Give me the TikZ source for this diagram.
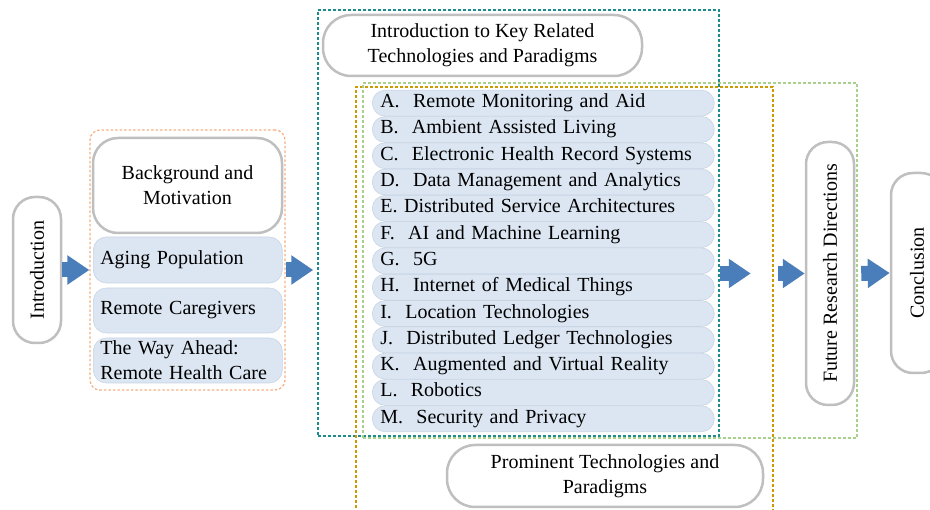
\documentclass[tikz,border=0pt]{standalone}
\usepackage{fontspec}
\setmainfont{Liberation Serif}
\usetikzlibrary{arrows.meta}

\definecolor{rowblue}{RGB}{220,230,242}
\definecolor{rowedge}{RGB}{200,212,228}
\definecolor{boxgray}{RGB}{191,191,191}
\definecolor{flowblue}{RGB}{74,126,187}
\definecolor{dashorange}{RGB}{244,177,131}
\definecolor{dashteal}{RGB}{30,140,140}
\definecolor{dashgold}{RGB}{204,153,0}
\definecolor{dashgreen}{RGB}{169,209,142}

\begin{document}
\begin{tikzpicture}[x=1pt,y=-1pt,
  txt/.style={font=\fontsize{20}{25}\selectfont},
  title/.style={txt, draw=boxgray, line width=2.5pt, fill=white, rounded corners=22pt, align=center, inner sep=0pt},
  topic/.style={txt, draw=rowedge, line width=0.6pt, fill=rowblue, rounded corners=13pt, align=left, inner ysep=0pt, text height=14pt, text depth=5pt, anchor=west},
  group/.style={draw=#1, line width=1.5pt, dash pattern=on 3pt off 2pt, inner sep=0pt},
  flow/.style={draw=flowblue, line width=15pt, -{Triangle[length=22pt,width=28pt]}}
]
\useasboundingbox (0,0) rectangle (930,510);
\clip (0,0) rectangle (930,510);

% dashed groups
\node[group=dashorange, line width=1.3pt, dash pattern=on 2.5pt off 2pt, rounded corners=10pt, minimum width=195pt, minimum height=260pt] (bgfit) at (187.5,260) {};
\node[group=dashteal, minimum width=401pt, minimum height=426pt] (teal) at (518.5,223) {};
\node[group=dashgold, minimum width=417pt, minimum height=443pt] (gold) at (564.5,308.5) {};
\node[group=dashgreen, minimum width=494pt, minimum height=355pt] (green) at (610,260.5) {};

% section boxes
\node[title, minimum width=48pt, minimum height=146pt] (intro) at (37,270) {\rotatebox{90}{Introduction}};
\node[title, rounded corners=25pt, minimum width=189pt, minimum height=95pt] (bgm) at (187.5,185.5) {Background and\\Motivation};
\node[topic, text width=175pt, inner xsep=7pt, minimum height=46pt] (aging) at (93,260) {Aging Population};
\node[topic, text width=175pt, inner xsep=7pt, minimum height=45pt] (care) at (93,310.5) {Remote Caregivers};
\node[topic, text width=175pt, inner xsep=7pt, minimum height=45pt, text height=, text depth=] (ahead) at (93,360.5) {The Way Ahead:\\Remote Health Care};

\node[title, rounded corners=28pt, minimum width=319pt, minimum height=61pt] (keyintro) at (482.5,45.5) {Introduction to Key Related\\Technologies and Paradigms};
\foreach \topicname [count=\i from 0] in {A.~~Remote Monitoring and Aid, B.~~Ambient Assisted Living,
    C.~~Electronic Health Record Systems, D.~~Data Management and Analytics,
    E. Distributed Service Architectures, F.~~AI and Machine Learning, G.~~5G,
    H.~~Internet of Medical Things, I.~~Location Technologies,
    J.~~Distributed Ledger Technologies, K.~~Augmented and Virtual Reality,
    L.~~Robotics, M.~~Security and Privacy}
  \node[topic, text width=326pt, inner xsep=8pt, minimum height=26pt] (t\i) at (372,103.15+26.3*\i) {\topicname};
\node[title, rounded corners=28pt, minimum width=316pt, minimum height=62pt] (prom) at (605,476) {Prominent Technologies and\\Paradigms};

\node[title, minimum width=48pt, minimum height=263pt] (future) at (830,273.5) {\rotatebox{90}{Future Research Directions}};
\node[title, minimum width=52pt, minimum height=200pt] (concl) at (917,273) {\rotatebox{90}{Conclusion}};

% flow arrows
\draw[flow] (intro.east) -- (intro.east -| bgfit.west);
\draw[flow, shorten >=4pt] (intro.east -| bgfit.east) -- (intro.east -| teal.west);
\draw[flow, shorten >=23pt] (future.west -| teal.east) -- (future.west -| gold.east);
\draw[flow, shorten <=4pt] (future.west -| gold.east) -- (future.west);
\draw[flow, shorten <=6pt] (future.east) -- (concl.west);
\end{tikzpicture}
\end{document}
